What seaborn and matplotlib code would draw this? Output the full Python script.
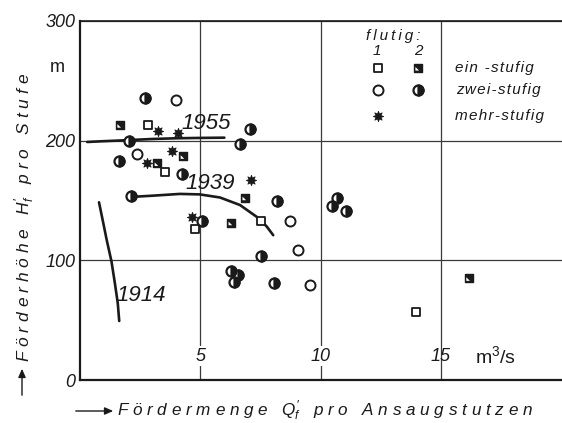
import numpy as np
import matplotlib
matplotlib.use("Agg")
import matplotlib.pyplot as plt
from matplotlib.markers import MarkerStyle
from matplotlib.path import Path
from matplotlib import font_manager
import seaborn as sns

# ---------------- data ----------------
# ein-stufig, 1-flutig (open square)
ein1_x = [2.81, 3.55, 4.76, 7.54, 13.97]
ein1_y = [213.5, 173.8, 125.9, 133.0, 56.5]
# ein-stufig, 2-flutig (filled square)
ein2_x = [1.66, 4.29, 3.21, 6.86, 6.28, 16.16]
ein2_y = [213.0, 187.0, 181.0, 152.4, 131.5, 85.0]
# zwei-stufig, 1-flutig (open circle)
zwei1_x = [4.01, 2.35, 8.72, 9.04, 9.57]
zwei1_y = [234.0, 188.5, 132.8, 108.6, 79.4]
# zwei-stufig, 2-flutig (half filled circle)
zwei2_x = [2.70, 7.05, 2.03, 6.64, 1.62, 4.22, 2.10, 8.19, 5.09, 7.51,
           6.27, 6.55, 6.40, 8.06, 10.68, 10.47, 11.04]
zwei2_y = [236.0, 209.4, 200.0, 197.0, 183.0, 171.8, 153.7, 149.6, 132.8, 103.4,
           91.3, 87.6, 82.1, 80.8, 152.3, 145.4, 141.0]
# mehr-stufig (star)
mehr_x = [3.25, 4.08, 3.83, 2.79, 7.12, 4.67]
mehr_y = [208.0, 206.6, 191.0, 181.0, 167.0, 135.8]

# curves
c1955_x = [0.30, 0.9, 1.5, 2.03, 3.0, 4.0, 5.0, 6.0]
c1955_y = [198.9, 199.5, 200.0, 200.5, 201.4, 202.0, 202.3, 202.5]
c1939_x = [2.21, 3.0, 4.15, 4.98, 5.82, 6.65, 7.34, 7.75, 8.03]
c1939_y = [153.1, 154.0, 155.5, 155.1, 152.5, 146.2, 136.4, 128.5, 121.0]
c1914_x = [0.79, 0.97, 1.11, 1.31, 1.45, 1.57, 1.63]
c1914_y = [148.5, 130.9, 117.0, 98.9, 80.8, 64.1, 49.3]

curve_labels = ["1955", "1939", "1914"]
xtick_vals = [5, 10, 15]
xtick_labels = ["5", "10", "15"]
ytick_vals = [0, 100, 200, 300]
ytick_labels = ["0", "100", "200", "300"]
legend_rows = ["ein -stufig", "zwei-stufig", "mehr-stufig"]

# ---------------- style ----------------
sns.set_style("white")
names = {f.name for f in font_manager.fontManager.ttflist}
base = "Liberation Sans Narrow" if "Liberation Sans Narrow" in names else "Liberation Sans"
plt.rcParams["font.family"] = [base, "Liberation Sans", "DejaVu Sans"]
plt.rcParams["mathtext.fontset"] = "custom"
plt.rcParams["mathtext.rm"] = base
plt.rcParams["mathtext.it"] = base + ":italic"
plt.rcParams["mathtext.bf"] = base + ":bold"

INK = "#1a1a1a"
W, H = 562, 423
fig = plt.figure(figsize=(W / 100, H / 100), dpi=100)
fig.patch.set_facecolor("white")
ax = fig.add_axes([80 / W, 43 / H, 482 / W, 359 / H])
ax.set_xlim(0, 20.03)
ax.set_ylim(0, 300)

# spines
for s in ["left", "bottom"]:
    ax.spines[s].set_linewidth(1.6)
    ax.spines[s].set_color(INK)
ax.spines["top"].set_linewidth(1.2)
ax.spines["top"].set_color(INK)
ax.spines["right"].set_visible(False)

ax.set_xticks(xtick_vals)
ax.set_yticks(ytick_vals)
ax.grid(True, color="#3a3a3a", linewidth=0.9)
ax.set_axisbelow(True)
ax.tick_params(axis="x", direction="inout", length=10, width=1.1, color=INK, labelbottom=False)
ax.tick_params(axis="y", direction="out", length=3, width=1.1, color=INK, pad=0.5)
ax.set_yticklabels(ytick_labels, fontstyle="italic", fontsize=13, color=INK)
ax.set_xlabel("")
ax.set_ylabel("")

# x tick labels inside plot
for v, lab in zip(xtick_vals, xtick_labels):
    bb = dict(facecolor="white", edgecolor="none", pad=1.0) if v != 15 else None
    ax.text(v, 20, lab, ha="center", va="center", fontsize=13, fontstyle="italic",
            color=INK, bbox=bb, zorder=2)
ax.text(17.25, 20, "m$^3$/s", ha="center", va="center", fontsize=14, color=INK, zorder=2)

# ---------------- curves ----------------
for cx, cy in [(c1955_x, c1955_y), (c1939_x, c1939_y), (c1914_x, c1914_y)]:
    sns.lineplot(x=cx, y=cy, sort=False, estimator=None, color=INK, linewidth=1.9,
                 ax=ax, zorder=2)

ax.text(5.23, 214.5, curve_labels[0], ha="center", va="center", fontsize=16,
        fontstyle="italic", color=INK)
ax.text(5.40, 164.6, curve_labels[1], ha="center", va="center", fontsize=16,
        fontstyle="italic", color=INK)
ax.text(2.56, 71, curve_labels[2], ha="center", va="center", fontsize=16,
        fontstyle="italic", color=INK)

# ---------------- markers ----------------
notch = MarkerStyle(Path([(1, 1), (-0.62, -0.62), (0.25, -0.62), (-0.62, 0.25), (-0.62, -0.62)],
                         [Path.MOVETO, Path.MOVETO, Path.LINETO, Path.LINETO, Path.CLOSEPOLY]))
half = MarkerStyle("o", fillstyle="right")
star = (8, 1, 0)

SQ, CI, ST = 30, 52, 55


def draw_open_square(axx, xs, ys, transform=None):
    kw = {} if transform is None else {"transform": transform}
    sns.scatterplot(x=xs, y=ys, marker="s", s=SQ, facecolor="white", edgecolor=INK,
                    linewidth=1.3, ax=axx, zorder=3, **kw)


def draw_filled_square(axx, xs, ys, transform=None):
    kw = {} if transform is None else {"transform": transform}
    sns.scatterplot(x=xs, y=ys, marker="s", s=SQ + 6, facecolor=INK, edgecolor=INK,
                    linewidth=1.0, ax=axx, zorder=3, **kw)
    sns.scatterplot(x=xs, y=ys, marker=notch, s=SQ + 6, facecolor="white", edgecolor="none",
                    linewidth=0, ax=axx, zorder=4, **kw)


def draw_open_circle(axx, xs, ys, transform=None):
    kw = {} if transform is None else {"transform": transform}
    sns.scatterplot(x=xs, y=ys, marker="o", s=CI, facecolor="white", edgecolor=INK,
                    linewidth=1.4, ax=axx, zorder=3, **kw)


def draw_half_circle(axx, xs, ys, transform=None):
    kw = {} if transform is None else {"transform": transform}
    sns.scatterplot(x=xs, y=ys, marker="o", s=CI, facecolor="white", edgecolor=INK,
                    linewidth=1.6, ax=axx, zorder=3, **kw)
    sns.scatterplot(x=xs, y=ys, marker=half, s=CI, facecolor=INK, edgecolor=INK,
                    linewidth=1.6, ax=axx, zorder=4, **kw)


def draw_star(axx, xs, ys, transform=None):
    kw = {} if transform is None else {"transform": transform}
    sns.scatterplot(x=xs, y=ys, marker=star, s=ST, facecolor=INK, edgecolor=INK,
                    linewidth=0.6, ax=axx, zorder=3, **kw)


draw_open_square(ax, ein1_x, ein1_y)
draw_filled_square(ax, ein2_x, ein2_y)
draw_open_circle(ax, zwei1_x, zwei1_y)
draw_half_circle(ax, zwei2_x, zwei2_y)
draw_star(ax, mehr_x, mehr_y)

# ---------------- legend (manual, axes coords) ----------------
def axc(px, py):
    return (px - 80) / 482, (380 - py) / 359


def spaced(s, sep="\u2009"):
    return sep.join(s)


t = ax.transAxes
LF = 11
ax.text(*axc(366, 36), spaced("flutig:"), transform=t, ha="left", va="center", fontsize=LF,
        fontstyle="italic", color=INK)
ax.text(*axc(377, 51), "1", transform=t, ha="center", va="center", fontsize=LF,
        fontstyle="italic", color=INK)
ax.text(*axc(418, 51), "2", transform=t, ha="center", va="center", fontsize=LF,
        fontstyle="italic", color=INK)

x1, y1 = axc(378, 68)
x2, _ = axc(418, 68)
_, y2 = axc(378, 90)
_, y3 = axc(378, 116)
draw_open_square(ax, [x1], [y1], transform=t)
draw_filled_square(ax, [x2], [y1], transform=t)
draw_open_circle(ax, [x1], [y2], transform=t)
draw_half_circle(ax, [x2], [y2], transform=t)
draw_star(ax, [x1], [y3], transform=t)
for py, px, lab in [(68, 455, legend_rows[0]), (90, 456, legend_rows[1]), (116, 455, legend_rows[2])]:
    ax.text(*axc(px, py), spaced(lab, "\u200a"), transform=t, ha="left", va="center",
            fontsize=LF, fontstyle="italic", color=INK)

ax.set_xlim(0, 20.03)
ax.set_ylim(0, 300)

# ---------------- axis titles ----------------
def fx(px):
    return px / W


def fy(py):
    return (H - py) / H


xlab = "F ö r d e r m e n g e   $Q_f^{\\prime}$   p r o   A n s a u g s t u t z e n"
fig.text(fx(117), fy(411), xlab, ha="left", va="center", fontsize=12.3,
         fontstyle="italic", color=INK)
fig.add_artist(matplotlib.patches.FancyArrowPatch(
    (fx(73), fy(411)), (fx(116), fy(411)), transform=fig.transFigure,
    arrowstyle="-|>,head_length=5,head_width=2.2", mutation_scale=1, color=INK, linewidth=1.0))

ylab = "F ö r d e r h ö h e   $H_f^{\\prime}$   p r o   S t u f e"
fig.text(fx(25), fy(362), ylab, ha="center", va="bottom", rotation=90, fontsize=12.5,
         fontstyle="italic", color=INK)
fig.add_artist(matplotlib.patches.FancyArrowPatch(
    (fx(22), fy(398)), (fx(22), fy(366)), transform=fig.transFigure,
    arrowstyle="-|>,head_length=5,head_width=2.2", mutation_scale=1, color=INK, linewidth=1.0))

fig.text(fx(57), fy(67), "m", ha="center", va="center", fontsize=13, color=INK)

fig.savefig("out.png", dpi=100, facecolor="white")
